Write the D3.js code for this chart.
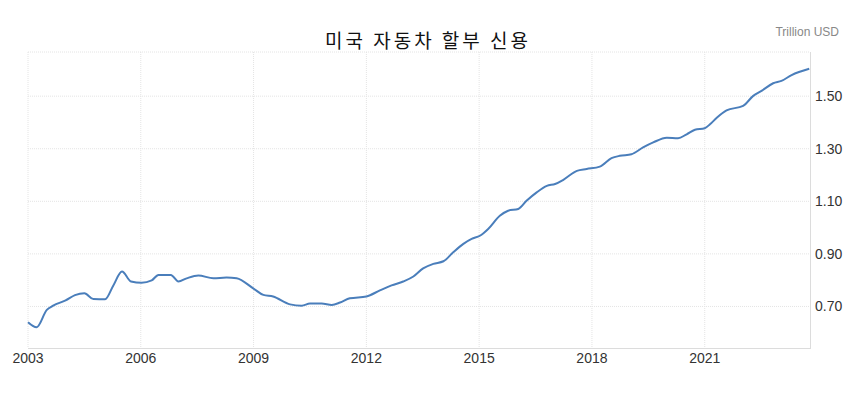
<!DOCTYPE html>
<html>
<head>
<meta charset="utf-8">
<script src="https://cdn.jsdelivr.net/npm/d3@7"></script>
<style>
  body { margin: 0; background: #fff; }
  svg { display: block; }
</style>
</head>
<body>
<svg id="chart" width="856" height="394"></svg>
<script>
// 数据：年份（小数）和数值（万亿美元）
const years = [2003.0, 2003.23, 2003.5, 2003.67, 2004.0, 2004.25, 2004.5, 2004.74, 2005.05, 2005.27,
  2005.5, 2005.74, 2006.02, 2006.29, 2006.47, 2006.8, 2007.0, 2007.22, 2007.53, 2007.93,
  2008.28, 2008.55, 2008.99, 2009.26, 2009.52, 2009.97, 2010.28, 2010.5, 2010.81, 2011.08,
  2011.3, 2011.56, 2012.0, 2012.36, 2012.67, 2012.98, 2013.25, 2013.51, 2013.78, 2014.05,
  2014.31, 2014.58, 2014.8, 2015.02, 2015.24, 2015.55, 2015.77, 2016.04, 2016.26, 2016.53,
  2016.8, 2017.02, 2017.24, 2017.6, 2017.86, 2018.21, 2018.52, 2018.74, 2019.05, 2019.36,
  2019.63, 2019.99, 2020.29, 2020.52, 2020.74, 2021.0, 2021.14, 2021.32, 2021.58, 2022.02,
  2022.29, 2022.51, 2022.82, 2023.04, 2023.31, 2023.78];
const credit = [0.640, 0.621, 0.687, 0.703, 0.723, 0.743, 0.750, 0.728, 0.727, 0.780,
  0.833, 0.795, 0.790, 0.799, 0.820, 0.820, 0.795, 0.807, 0.818, 0.807,
  0.810, 0.807, 0.769, 0.744, 0.738, 0.708, 0.703, 0.711, 0.711, 0.706,
  0.715, 0.731, 0.738, 0.761, 0.780, 0.795, 0.814, 0.845, 0.862, 0.872,
  0.906, 0.938, 0.957, 0.969, 0.995, 1.045, 1.064, 1.071, 1.102, 1.134,
  1.159, 1.166, 1.182, 1.216, 1.223, 1.232, 1.264, 1.273, 1.279, 1.305,
  1.324, 1.342, 1.340, 1.355, 1.372, 1.378, 1.393, 1.418, 1.446, 1.463,
  1.501, 1.520, 1.549, 1.558, 1.580, 1.604];
const xTicks = [2003, 2006, 2009, 2012, 2015, 2018, 2021];
const yTicks = [0.70, 0.90, 1.10, 1.30, 1.50];

const svg = d3.select("#chart");
const plotL = 28, plotR = 810, plotT = 52, plotB = 348;

const x = d3.scaleLinear().domain([2003, 2023.8]).range([plotL, plotR]);
const y = d3.scaleLinear().domain([0.542, 1.668]).range([plotB, plotT]);

// 网格线
const grid = svg.append("g");
grid.selectAll(".vg").data(xTicks).enter().append("line")
  .attr("x1", d => x(d)).attr("x2", d => x(d))
  .attr("y1", plotT).attr("y2", plotB)
  .attr("stroke", "#e4e4e4").attr("stroke-dasharray", "1,1");
grid.selectAll(".hg").data(yTicks.concat([1.668])).enter().append("line")
  .attr("x1", plotL).attr("x2", plotR)
  .attr("y1", d => y(d)).attr("y2", d => y(d))
  .attr("stroke", "#e4e4e4").attr("stroke-dasharray", "1,1");

// 坐标轴线
svg.append("line").attr("x1", plotL).attr("x2", plotR + 1)
  .attr("y1", plotB + 0.5).attr("y2", plotB + 0.5).attr("stroke", "#dcdcdc");
svg.append("line").attr("x1", plotR + 0.5).attr("x2", plotR + 0.5)
  .attr("y1", plotT).attr("y2", plotB).attr("stroke", "#dcdcdc");

// X 轴标签
svg.append("g").selectAll("text").data(xTicks).enter().append("text")
  .attr("x", d => x(d)).attr("y", 363)
  .attr("text-anchor", "middle")
  .attr("font-family", "Arial, 'Liberation Sans', sans-serif")
  .attr("font-size", 14).attr("fill", "#333")
  .text(d => d);

// Y 轴标签
svg.append("g").selectAll("text").data(yTicks).enter().append("text")
  .attr("x", 815).attr("y", d => y(d) + 5)
  .attr("font-family", "Arial, 'Liberation Sans', sans-serif")
  .attr("font-size", 14).attr("fill", "#333")
  .text(d => d.toFixed(2));

// 折线
const line = d3.line()
  .x((d, i) => x(years[i]))
  .y(d => y(d))
  .curve(d3.curveMonotoneX);
svg.append("path").datum(credit)
  .attr("d", line)
  .attr("fill", "none")
  .attr("stroke", "#4a7ebb")
  .attr("stroke-width", 2);

// 标题和单位
svg.append("text").attr("x", 428).attr("y", 48)
  .attr("text-anchor", "middle")
  .attr("font-family", "'Noto Sans CJK KR', sans-serif")
  .attr("font-size", 19).attr("letter-spacing", 3).attr("fill", "#111")
  .text("미국 자동차 할부  신용");
svg.append("text").attr("x", 839).attr("y", 36)
  .attr("text-anchor", "end")
  .attr("font-family", "Arial, 'Liberation Sans', sans-serif")
  .attr("font-size", 12).attr("fill", "#888")
  .text("Trillion USD");
</script>
</body>
</html>
